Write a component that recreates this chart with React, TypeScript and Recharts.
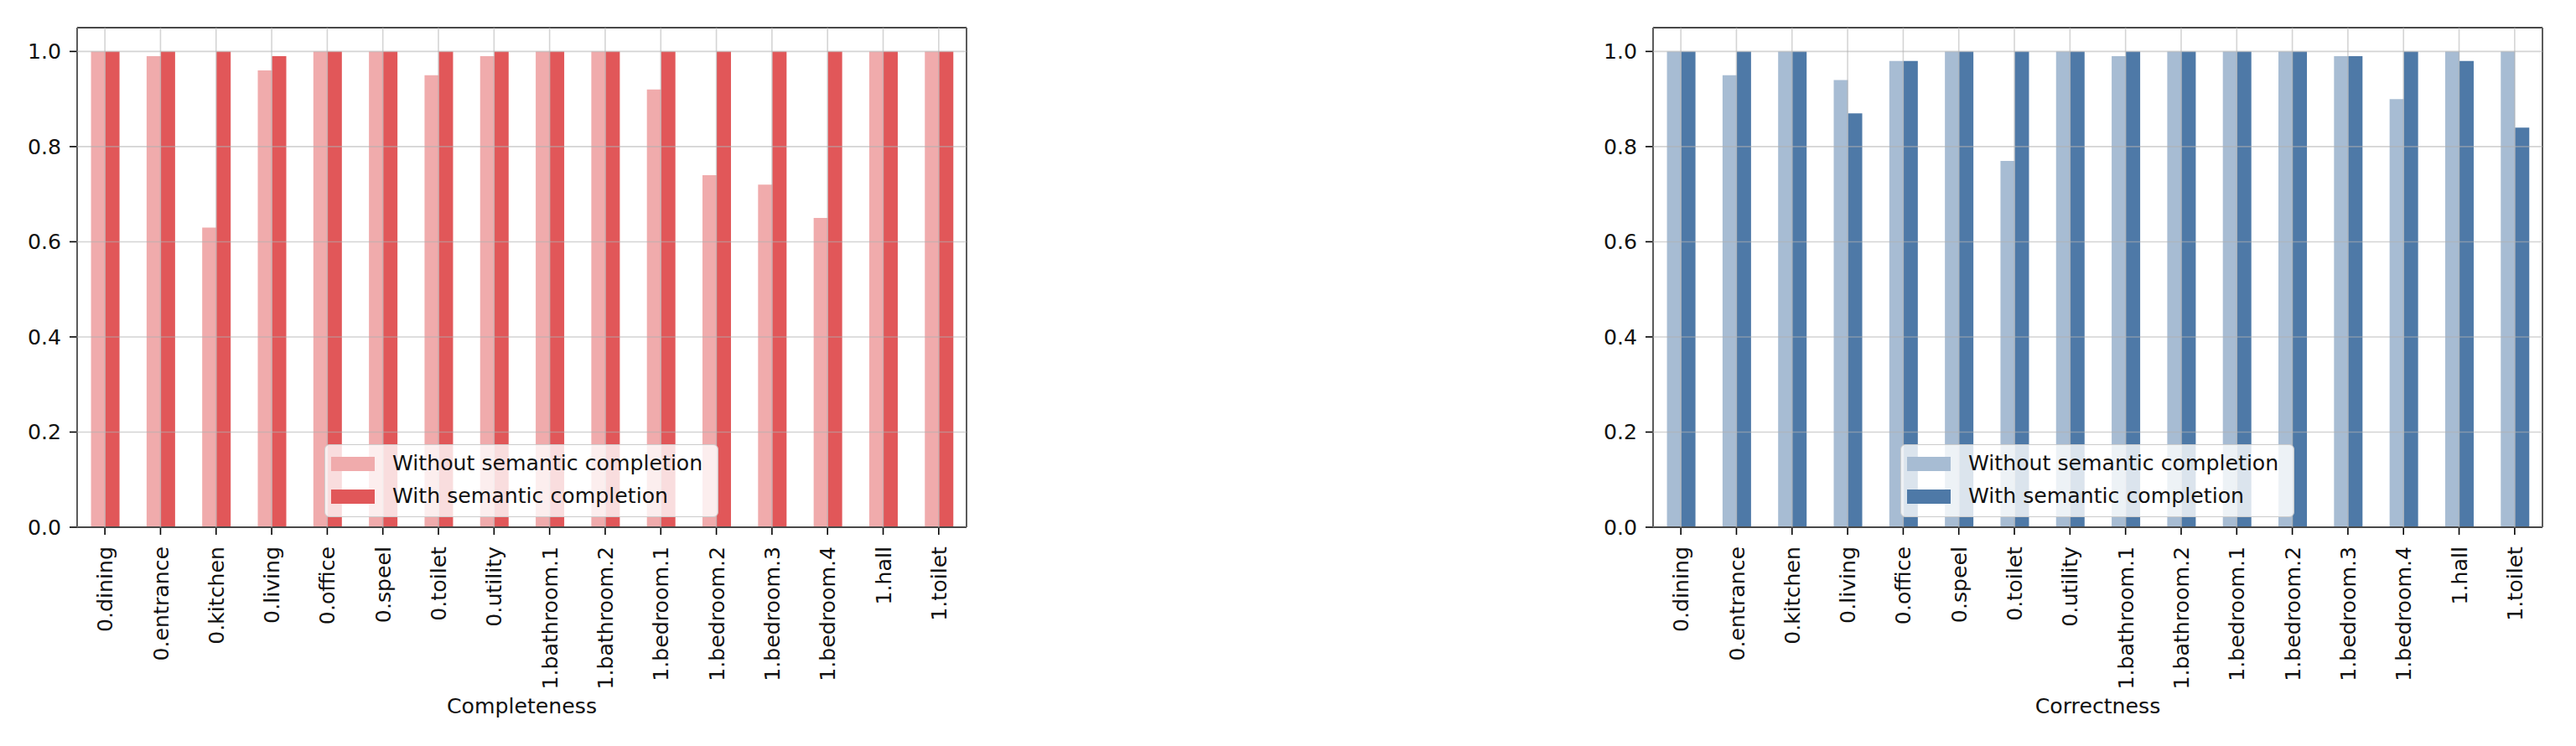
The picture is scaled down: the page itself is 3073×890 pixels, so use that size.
import React from 'react';
import { BarChart, Bar, XAxis, YAxis, CartesianGrid, Legend, ReferenceLine } from 'recharts';

const categories = [
  '0.dining', '0.entrance', '0.kitchen', '0.living', '0.office', '0.speel', '0.toilet', '0.utility',
  '1.bathroom.1', '1.bathroom.2', '1.bedroom.1', '1.bedroom.2', '1.bedroom.3', '1.bedroom.4', '1.hall', '1.toilet',
];
const completenessWithout = [1.0, 0.99, 0.63, 0.96, 1.0, 1.0, 0.95, 0.99, 1.0, 1.0, 0.92, 0.74, 0.72, 0.65, 1.0, 1.0];
const completenessWith = [1.0, 1.0, 1.0, 0.99, 1.0, 1.0, 1.0, 1.0, 1.0, 1.0, 1.0, 1.0, 1.0, 1.0, 1.0, 1.0];
const correctnessWithout = [1.0, 0.95, 1.0, 0.94, 0.98, 1.0, 0.77, 1.0, 0.99, 1.0, 1.0, 1.0, 0.99, 0.9, 1.0, 1.0];
const correctnessWith = [1.0, 1.0, 1.0, 0.87, 0.98, 1.0, 1.0, 1.0, 1.0, 1.0, 1.0, 1.0, 0.99, 1.0, 0.98, 0.84];
const yTicks = [0, 0.2, 0.4, 0.6, 0.8, 1.0];
const yMax = 1.05;
const seriesNames = ['Without semantic completion', 'With semantic completion'];
const panelTitles = ['Completeness', 'Correctness'];

const FONT = '"DejaVu Sans", sans-serif';
const FS = 25.2;
const TEXT = '#111';

function XTick(props: any) {
  const { x, y, payload } = props;
  return (
    <g transform={`translate(${x},${y})`}>
      <text transform="rotate(-90)" textAnchor="end" dy="0.36em" fontSize={FS} fontFamily={FONT} fill={TEXT}>
        {payload.value}
      </text>
    </g>
  );
}

function makeLegend(light: string, dark: string) {
  return () => (
    <div
      style={{
        position: 'relative',
        width: 470,
        height: 87,
        boxSizing: 'border-box',
        border: '1.5px solid #cccccc',
        borderRadius: 6,
        background: 'rgba(255,255,255,0.8)',
        fontFamily: FONT,
        fontSize: FS,
        color: TEXT,
      }}
    >
      {[light, dark].map((c, i) => (
        <div key={i} style={{ position: 'absolute', left: 0, top: 22 + i * 39 - 19, height: 38, width: '100%' }}>
          <div style={{ position: 'absolute', left: 7, top: 10.5, width: 52, height: 17, background: c }} />
          <div style={{ position: 'absolute', left: 80, top: 0, lineHeight: '38px', whiteSpace: 'nowrap' }}>
            {seriesNames[i]}
          </div>
        </div>
      ))}
    </div>
  );
}

function Panel(props: { title: string; without: number[]; withVals: number[]; light: string; dark: string; left: number; yWidth: number }) {
  const { title, without, withVals, light, dark, left, yWidth } = props;
  const data = categories.map((c, i) => ({ name: c, without: without[i], with: withVals[i] }));
  return (
    <div style={{ position: 'absolute', left, top: 0 }}>
      <BarChart
        width={1200}
        height={890}
        data={data}
        margin={{ top: 33, right: 47, left: 92 - yWidth, bottom: 0 }}
        barCategoryGap="25%"
        barGap={0}
      >
        <XAxis
          dataKey="name"
          type="category"
          height={261}
          interval={0}
          tick={<XTick />}
          tickSize={9}
          tickMargin={14}
          tickLine={{ stroke: '#000', strokeWidth: 1.6 }}
          axisLine={{ stroke: '#000', strokeWidth: 1.8 }}
          label={{ value: title, position: 'insideBottom', offset: 39, fontSize: FS, fill: TEXT, fontFamily: FONT }}
        />
        <YAxis
          domain={[0, yMax]}
          ticks={yTicks}
          width={yWidth}
          tickSize={9}
          tickMargin={10}
          tickFormatter={(v: number) => v.toFixed(1)}
          tick={{ fontSize: FS, fill: TEXT, fontFamily: FONT }}
          tickLine={{ stroke: '#000', strokeWidth: 1.6 }}
          axisLine={{ stroke: '#000', strokeWidth: 1.8 }}
        />
        <Bar dataKey="without" name={seriesNames[0]} fill={light} isAnimationActive={false} />
        <Bar dataKey="with" name={seriesNames[1]} fill={dark} isAnimationActive={false} />
        <CartesianGrid stroke="#b0b0b0" strokeOpacity={0.55} strokeWidth={1.6} zIndex={600} />
        <ReferenceLine y={yMax} stroke="#000" strokeWidth={1.8} ifOverflow="visible" />
        <ReferenceLine x={categories[categories.length - 1]} position="end" stroke="#000" strokeWidth={1.8} ifOverflow="visible" />
        <Legend
          layout="vertical"
          align="center"
          verticalAlign="middle"
          wrapperStyle={{ left: 387, top: 530, width: 470, height: 87 }}
          content={makeLegend(light, dark)}
        />
      </BarChart>
    </div>
  );
}

export default function App() {
  return (
    <div style={{ position: 'absolute', left: 0, top: 0, width: 3073, height: 890, overflow: 'hidden', background: '#fff' }}>
      <Panel title={panelTitles[0]} without={completenessWithout} withVals={completenessWith} light="#F0ABAC" dark="#E15759" left={0} yWidth={92} />
      <Panel title={panelTitles[1]} without={correctnessWithout} withVals={correctnessWith} light="#A7BCD3" dark="#4E79A7" left={1880} yWidth={91} />
    </div>
  );
}
